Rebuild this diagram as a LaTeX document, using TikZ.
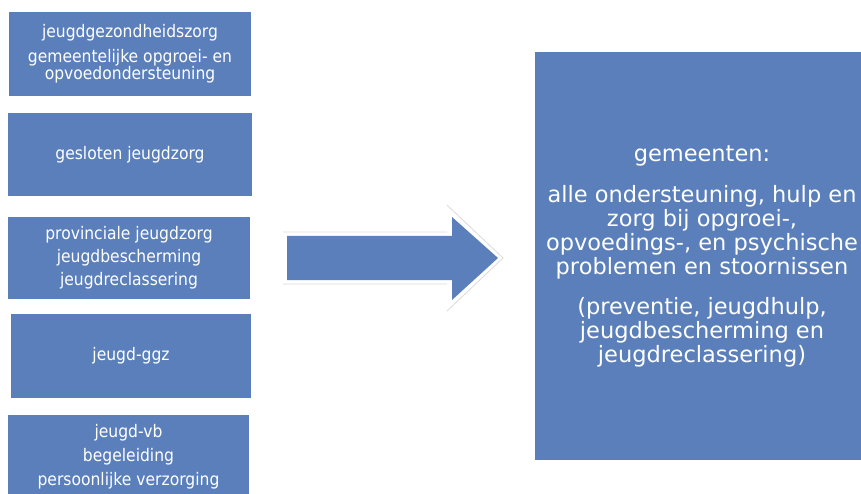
\documentclass[tikz,border=0pt]{standalone}
\usepackage{fontspec}
\setmainfont{DejaVu Sans}
\newfontfamily\vakfont{DejaVu Sans}[FakeStretch=0.9]
\definecolor{vakblauw}{HTML}{5A7FBA}
\definecolor{randgrijs}{HTML}{DADADA}

\begin{document}
\begin{tikzpicture}[x=1pt,y=-1pt,
		vak/.style={fill=vakblauw, text=white, align=center, inner sep=0pt,
			minimum width=242pt, minimum height=84pt,
			font=\vakfont\fontsize{17.3}{17}\selectfont},
		groot/.style={fill=vakblauw, text=white, align=center, inner sep=0pt,
			minimum width=334pt, minimum height=408pt,
			font=\fontsize{22.5}{24}\selectfont}]
				\useasboundingbox (0,0) rectangle (861,494);
				% linker kolom
				\node[vak] (gezondheid) at (130,54) {jeugdgezondheidszorg\\[8pt]gemeentelijke opgroei- en\\opvoedondersteuning};
				\node[vak, minimum width=244pt, minimum height=83pt] (gesloten) at (130,154.5) {gesloten jeugdzorg};
				\node[vak, minimum height=82pt] (provinciaal) at (129,258) {provinciale jeugdzorg\\[6pt]jeugdbescherming\\[6pt]jeugdreclassering};
				\node[vak, minimum width=240pt] (ggz) at (131,356) {jeugd-ggz};
				\node[vak, minimum width=241pt] (vb) at (128.5,457) {jeugd-vb\\[7pt]begeleiding\\[7pt]persoonlijke verzorging};
				% pijl
				\draw[randgrijs, thick] (283,232) -- (447,232) (283,284) -- (447,284) (447,205) -- (503,258) -- (447,311);
				\fill[vakblauw] (287,236) -- (452,236) -- (452,217) -- (498,258) -- (452,300) -- (452,280) -- (287,280) -- cycle;
				% rechter vak
				\node[groot] (gemeenten) at (702,256) {gemeenten:\\[17pt]alle ondersteuning, hulp en\\zorg bij opgroei-,\\opvoedings-, en psychische\\problemen en stoornissen\\[16pt](preventie, jeugdhulp,\\jeugdbescherming en\\jeugdreclassering)};
			\end{tikzpicture}
\end{document}
